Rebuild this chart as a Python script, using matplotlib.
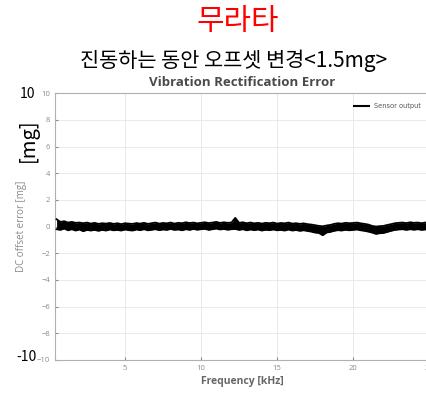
import matplotlib
matplotlib.use("Agg")
import matplotlib.pyplot as plt

# Frequency sweep [kHz] and the noise band of the DC offset error [mg]
freq_khz = [
    0.50, 0.75, 1.00, 1.25, 1.50, 1.75, 2.00, 2.25, 2.50, 2.75,
    3.00, 3.25, 3.50, 3.75, 4.00, 4.25, 4.50, 4.75, 5.00, 5.25,
    5.50, 5.75, 6.00, 6.25, 6.50, 6.75, 7.00, 7.25, 7.50, 7.75,
    8.00, 8.25, 8.50, 8.75, 9.00, 9.25, 9.50, 9.75, 10.00, 10.25,
    10.50, 10.75, 11.00, 11.25, 11.50, 11.75, 12.00, 12.25, 12.50, 12.75,
    13.00, 13.25, 13.50, 13.75, 14.00, 14.25, 14.50, 14.75, 15.00, 15.25,
    15.50, 15.75, 16.00, 16.25, 16.50, 16.75, 17.00, 17.25, 17.50, 17.75,
    18.00, 18.25, 18.50, 18.75, 19.00, 19.25, 19.50, 19.75, 20.00, 20.25,
    20.50, 20.75, 21.00, 21.25, 21.50, 21.75, 22.00, 22.25, 22.50, 22.75,
    23.00, 23.25, 23.50, 23.75, 24.00, 24.25, 24.50, 24.75, 25.00,
]
offset_hi = [
    0.55, 0.35, 0.40, 0.30, 0.35, 0.28, 0.30, 0.25, 0.30, 0.22,
    0.28, 0.20, 0.25, 0.22, 0.27, 0.20, 0.25, 0.18, 0.25, 0.22,
    0.20, 0.26, 0.22, 0.28, 0.20, 0.25, 0.30, 0.22, 0.27, 0.24,
    0.30, 0.22, 0.28, 0.25, 0.32, 0.26, 0.30, 0.24, 0.28, 0.32,
    0.26, 0.30, 0.35, 0.27, 0.32, 0.28, 0.30, 0.65, 0.28, 0.32,
    0.25, 0.30, 0.24, 0.28, 0.22, 0.28, 0.25, 0.30, 0.22, 0.27,
    0.24, 0.30, 0.22, 0.25, 0.20, 0.24, 0.18, 0.15, 0.10, 0.05,
    0.02, 0.08, 0.12, 0.20, 0.25, 0.22, 0.28, 0.25, 0.27, 0.30,
    0.24, 0.20, 0.15, 0.05, 0.00, 0.03, 0.05, 0.12, 0.18, 0.25,
    0.28, 0.30, 0.26, 0.32, 0.28, 0.30, 0.25, 0.30, 0.27,
]
offset_lo = [
    -0.20, -0.25, -0.15, -0.28, -0.20, -0.30, -0.22, -0.35, -0.25, -0.30,
    -0.25, -0.32, -0.25, -0.30, -0.22, -0.28, -0.25, -0.30, -0.22, -0.27,
    -0.30, -0.22, -0.27, -0.20, -0.28, -0.24, -0.20, -0.27, -0.22, -0.25,
    -0.18, -0.25, -0.22, -0.28, -0.20, -0.25, -0.18, -0.24, -0.20, -0.17,
    -0.25, -0.20, -0.15, -0.22, -0.18, -0.24, -0.20, -0.18, -0.25, -0.20,
    -0.28, -0.22, -0.27, -0.22, -0.30, -0.24, -0.27, -0.22, -0.28, -0.25,
    -0.30, -0.22, -0.30, -0.26, -0.32, -0.28, -0.33, -0.38, -0.45, -0.48,
    -0.65, -0.45, -0.40, -0.32, -0.27, -0.30, -0.24, -0.28, -0.25, -0.22,
    -0.28, -0.32, -0.38, -0.45, -0.55, -0.50, -0.48, -0.40, -0.32, -0.25,
    -0.22, -0.20, -0.25, -0.20, -0.24, -0.20, -0.25, -0.22, -0.25,
]
x_ticks = [5, 10, 15, 20, 25]
y_ticks = [-10, -8, -6, -4, -2, 0, 2, 4, 6, 8, 10]

grey = "#8a8a8a"
kr = ["Noto Sans CJK KR", "DejaVu Sans"]

fig = plt.figure(figsize=(4.27, 3.93), dpi=100)
ax = fig.add_axes([0.129, 0.084, 0.876, 0.679])
ax.set_axisbelow(True)

ax.fill_between(freq_khz, offset_lo, offset_hi, color="black", lw=0, zorder=3)
ax.plot(freq_khz, offset_hi, color="black", lw=1.3, zorder=3)
ax.plot(freq_khz, offset_lo, color="black", lw=1.3, zorder=3)
ax.plot([], [], color="black", lw=1.5, label="Sensor output")

ax.set_xlim(0.4, 25)
ax.set_ylim(-10, 10)
ax.set_xticks(x_ticks)
ax.set_yticks(y_ticks)
ax.tick_params(labelsize=5.5, colors=grey, length=2, direction="in")
for lab in ax.get_xticklabels() + ax.get_yticklabels():
    lab.set_family("Open Sans")
ax.grid(True, color="#e6e6e6", lw=0.6)
for s in ax.spines.values():
    s.set_color("#b0b0b0")
    s.set_linewidth(0.8)

ax.set_title("Vibration Rectification Error", family="Open Sans", fontsize=9.5,
             fontweight="bold", color="#4a4a4a", pad=5)
ax.set_xlabel("Frequency [kHz]", family="Open Sans", fontsize=7.5,
              fontweight="bold", color="#666666", labelpad=3)
ax.set_ylabel("DC offset error [mg]", family="Open Sans", fontsize=7,
              color=grey, labelpad=7)

leg = ax.legend(loc="upper right", bbox_to_anchor=(0.995, 0.985), fontsize=4.8,
                frameon=False, handlelength=2.2)
for t in leg.get_texts():
    t.set_color("#555555")

# overlay annotations
fig.text(0.557, 0.946, "무라타", family=kr, fontsize=21.5, color="red",
         ha="center", va="center")
fig.text(0.548, 0.845, "진동하는 동안 오프셋 변경<1.5mg>", family=kr, fontsize=15,
         color="black", ha="center", va="center")
fig.text(0.064, 0.761, "10", family=kr, fontsize=10, ha="center", va="center")
fig.text(0.061, 0.092, "-10", family=kr, fontsize=10, ha="center", va="center")
fig.text(0.066, 0.644, "[mg]", family=kr, fontsize=14.5, rotation=90,
         ha="center", va="center")

fig.savefig("out.png", dpi=100)
